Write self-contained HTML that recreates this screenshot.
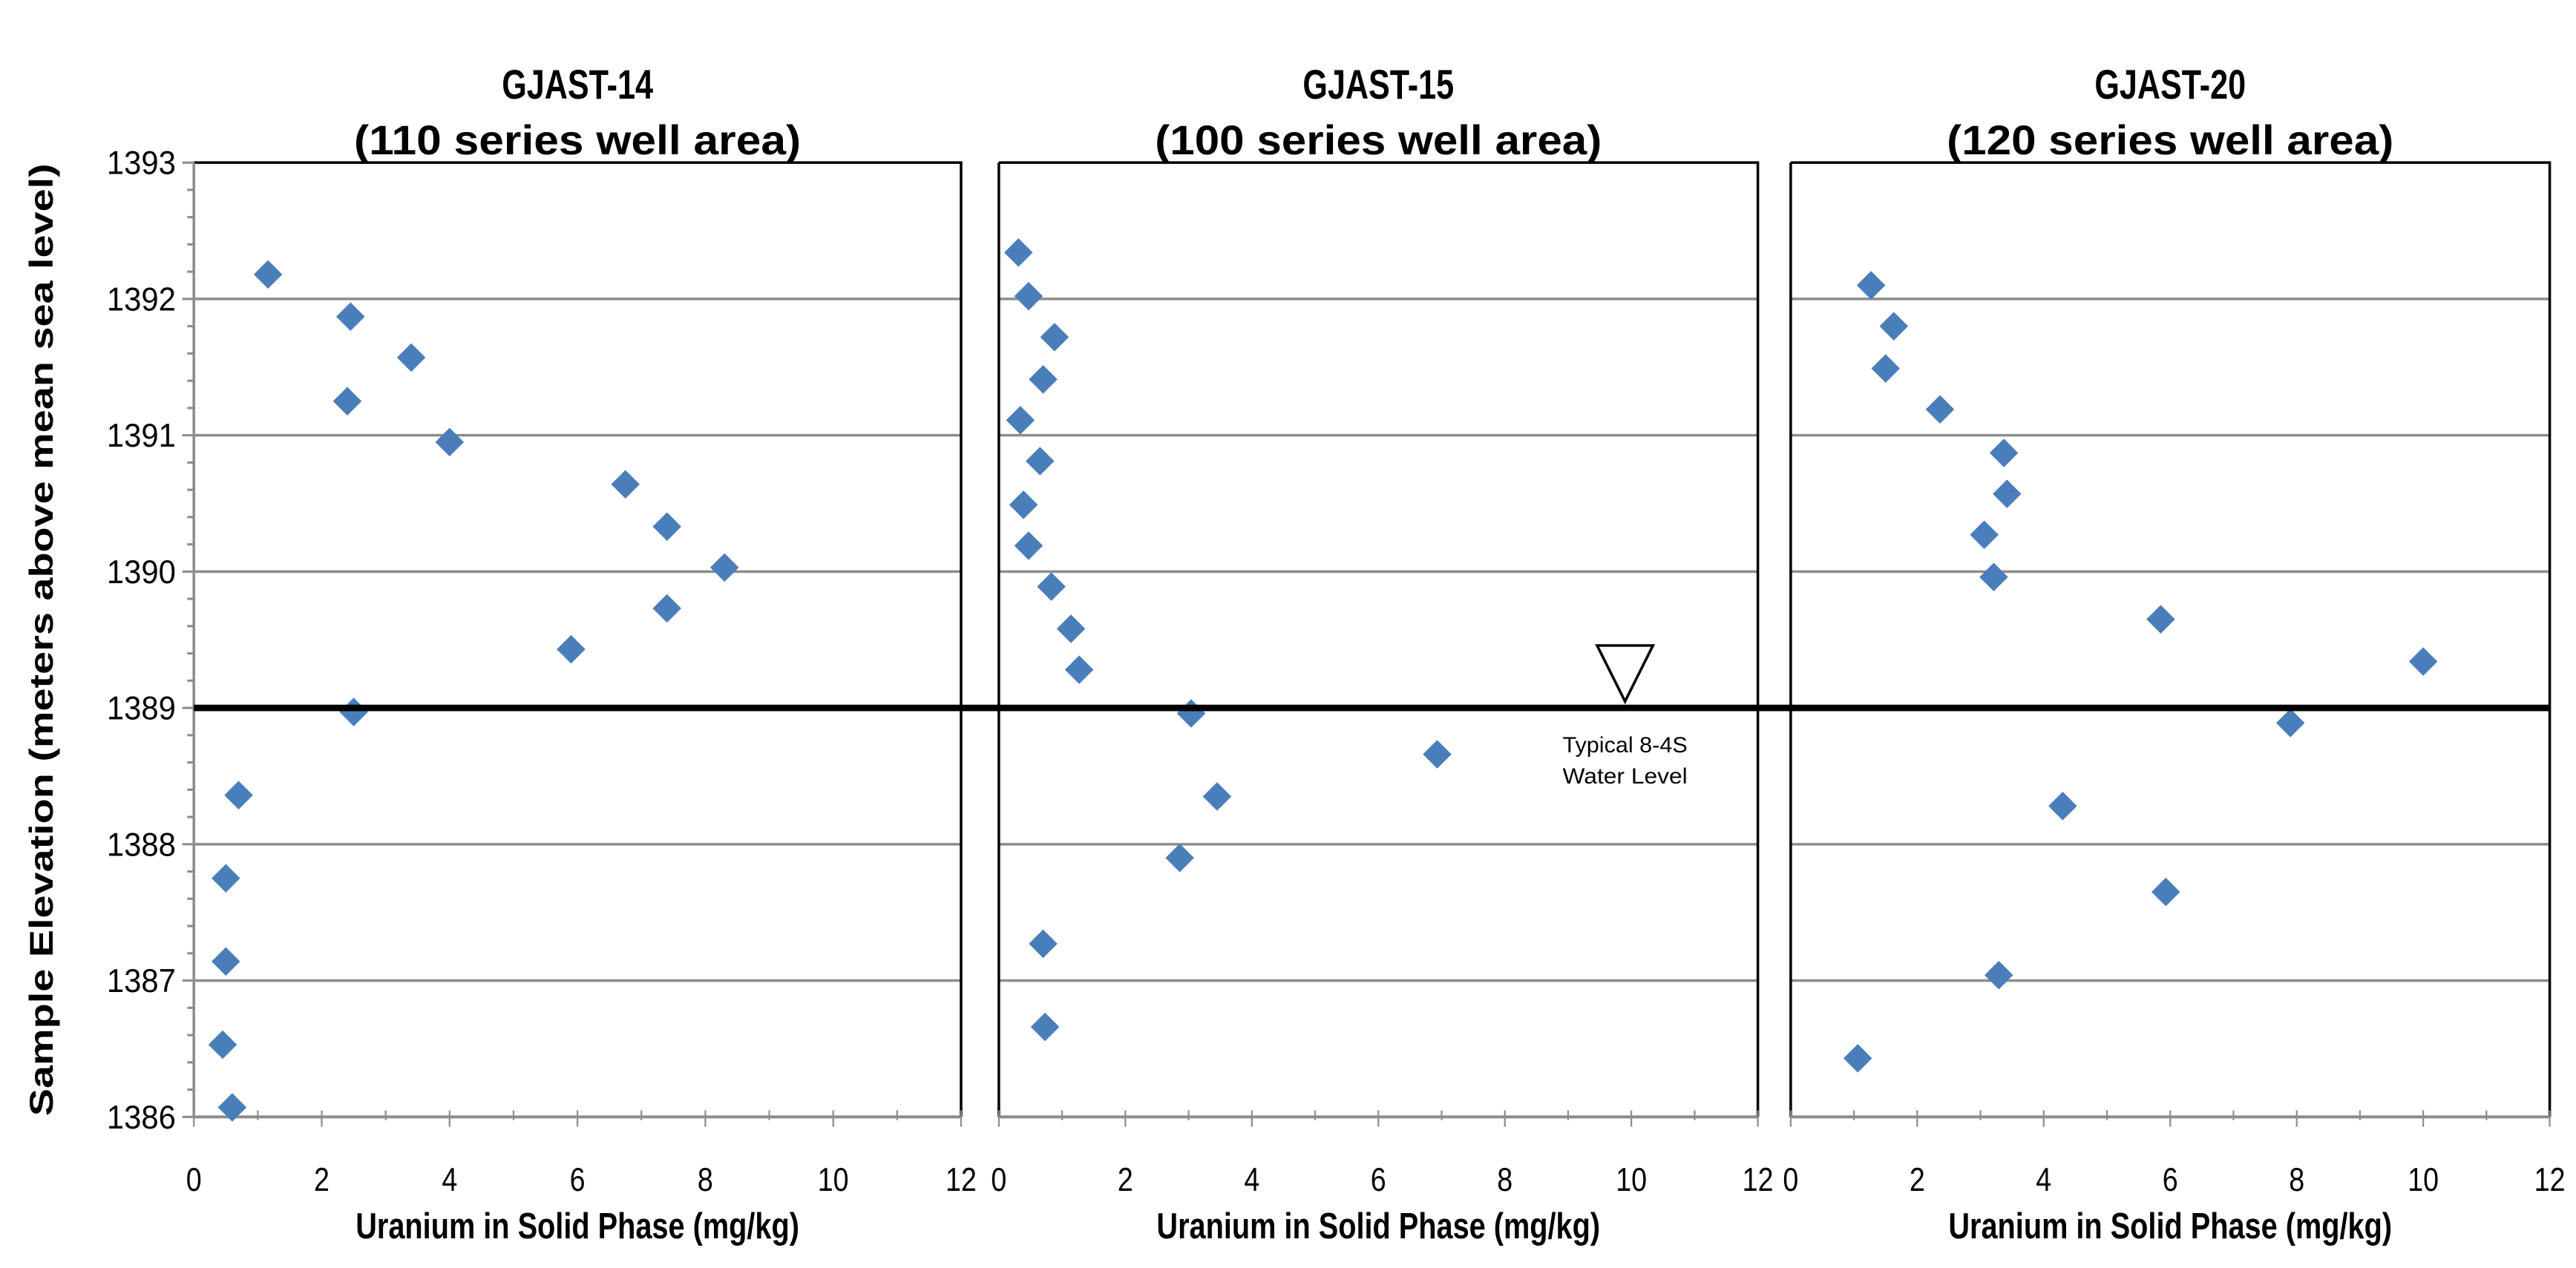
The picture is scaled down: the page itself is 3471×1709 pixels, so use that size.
<!DOCTYPE html>
<html><head><meta charset="utf-8"><style>
html,body{margin:0;padding:0;background:#fff;}
svg{display:block;}
text{font-family:"Liberation Sans",sans-serif;}
</style></head><body>
<svg id="chart" width="3471" height="1709" viewBox="0 0 1568 772" preserveAspectRatio="none" xmlns="http://www.w3.org/2000/svg">
<g id="g"></g>
</svg>
<script>
const yTicks = [1386, 1387, 1388, 1389, 1390, 1391, 1392, 1393];
const xTickLabels = [0, 2, 4, 6, 8, 10, 12];
const panelTitles = ["GJAST-14", "GJAST-15", "GJAST-20"];
const panelSubtitles = ["(110 series well area)", "(100 series well area)", "(120 series well area)"];
const s14x = [1.16, 2.45, 3.4, 2.4, 4.0, 6.75, 7.4, 8.3, 7.4, 5.9, 2.5, 0.7, 0.5, 0.5, 0.45, 0.6];
const s14y = [1392.18, 1391.87, 1391.57, 1391.25, 1390.95, 1390.64, 1390.33, 1390.03, 1389.73, 1389.43, 1388.97, 1388.36, 1387.75, 1387.14, 1386.53, 1386.07];
const s15x = [0.31, 0.47, 0.88, 0.7, 0.34, 0.65, 0.39, 0.47, 0.83, 1.14, 1.27, 3.04, 6.93, 3.45, 2.86, 0.7, 0.73];
const s15y = [1392.34, 1392.02, 1391.72, 1391.41, 1391.11, 1390.81, 1390.49, 1390.19, 1389.89, 1389.58, 1389.28, 1388.96, 1388.66, 1388.35, 1387.9, 1387.27, 1386.66];
const s20x = [1.27, 1.63, 1.5, 2.36, 3.37, 3.42, 3.06, 3.21, 5.85, 10.0, 7.9, 4.3, 5.93, 3.29, 1.06];
const s20y = [1392.1, 1391.8, 1391.49, 1391.19, 1390.87, 1390.57, 1390.27, 1389.96, 1389.65, 1389.34, 1388.89, 1388.28, 1387.65, 1387.04, 1386.43];
const waterLevel = 1389;
const waterMarkX = 9.9;

const NS = "http://www.w3.org/2000/svg";
const g = document.getElementById("g");
const panels = [{l:118,r:585},{l:608,r:1070},{l:1090,r:1552}];
const plotTop = 99, unit = 83;
const X_MIN = 0, X_MAX = 12, Y_MAX = 1393;
function yScale(v){ return plotTop + (Y_MAX - v) * unit; }
function xScale(p, v){ return p.l + (v - X_MIN) / (X_MAX - X_MIN) * (p.r - p.l); }
function el(tag, attrs, parent){
  const e = document.createElementNS(NS, tag);
  for (const k in attrs) e.setAttribute(k, attrs[k]);
  (parent || g).appendChild(e);
  return e;
}
const plotBottom = yScale(yTicks[0]);
const series = [[s14x, s14y], [s15x, s15y], [s20x, s20y]];

panels.forEach((p, i) => {
  const pg = el("g", {});
  
  
  yTicks.forEach(t => {
    if (t === yTicks[0] || t === yTicks[yTicks.length-1]) return;
    const ln = el("line", {x1:p.l, x2:p.r, y1:yScale(t), y2:yScale(t), stroke:"#8c8c8c", "stroke-width":1.6}, pg);
    
    
  });
  const bx = el("polyline", {points:`${p.l},${plotTop} ${p.r},${plotTop} ${p.r},${plotBottom}`, fill:"none", stroke:"#000", "stroke-width":1.6}, pg);
  
  
  if (i > 0) {
    const lb = el("line", {x1:p.l, x2:p.l, y1:plotTop, y2:plotBottom, stroke:"#000", "stroke-width":1.6}, pg);
    
    
  }
  const xa = el("line", {x1:p.l, x2:p.r, y1:plotBottom, y2:plotBottom, stroke:"#8c8c8c", "stroke-width":1.8}, pg);
  
  
  for (let v = X_MIN; v <= X_MAX; v++) {
    const x = xScale(p, v);
    const major = v % 2 === 0;
    const tk = el("line", {x1:x, x2:x, y1:plotBottom - 4, y2:plotBottom + (major ? 6 : 2), stroke:"#8c8c8c", "stroke-width":1}, pg);
    
    
  }
  xTickLabels.forEach(v => {
    const t = el("text", {x:xScale(p, v), y:725, "text-anchor":"middle", "font-size":20, fill:"#000", transform:`translate(${xScale(p, v)*0.15},0) scale(0.85,1)`}, pg);
    t.textContent = v;
    
    
  });
  const xt = el("text", {x:(p.l+p.r)/2, y:754, "text-anchor":"middle", "font-size":22, "font-weight":"bold", textLength:270, lengthAdjust:"spacingAndGlyphs"}, pg);
  xt.textContent = "Uranium in Solid Phase (mg/kg)";
  
  
  const t1 = el("text", {x:(p.l+p.r)/2, y:60, "text-anchor":"middle", "font-size":25, "font-weight":"bold", textLength:92, lengthAdjust:"spacingAndGlyphs"}, pg);
  t1.textContent = panelTitles[i];
  
  
  const t2 = el("text", {x:(p.l+p.r)/2, y:94, "text-anchor":"middle", "font-size":25, "font-weight":"bold", textLength:272, lengthAdjust:"spacingAndGlyphs"}, pg);
  t2.textContent = panelSubtitles[i];
  
  
  const [xs, ys] = series[i];
  xs.forEach((v, k) => {
    const cx = xScale(p, v), cy = yScale(ys[k]);
    const d = el("polygon", {points:`${cx},${cy-8.7} ${cx+8.7},${cy} ${cx},${cy+8.7} ${cx-8.7},${cy}`, fill:"#4a7ebb"}, pg);
    
    
  });
});

const p0 = panels[0];
const ya = el("line", {x1:p0.l, x2:p0.l, y1:plotTop, y2:plotBottom, stroke:"#8c8c8c", "stroke-width":1.6});


for (let k = 0; k <= (yTicks.length-1)*5; k++) {
  const v = yTicks[0] + k * 0.2;
  const major = k % 5 === 0;
  const tk = el("line", {x1:p0.l - (major ? 7 : 4), x2:p0.l, y1:yScale(v), y2:yScale(v), stroke:"#8c8c8c", "stroke-width":1.4});
  
  
}
yTicks.forEach(v => {
  const t = el("text", {x:107, y:yScale(v)+7, "text-anchor":"end", "font-size":20, textLength:42, lengthAdjust:"spacingAndGlyphs"});
  t.textContent = v;
  
  
});
const yt = el("text", {x:0, y:0, "text-anchor":"middle", "font-size":20, "font-weight":"bold", transform:`translate(32,${(plotTop+plotBottom)/2}) rotate(-90)`, textLength:580, lengthAdjust:"spacingAndGlyphs"});
yt.textContent = "Sample Elevation (meters above mean sea level)";



const wy = yScale(waterLevel);
const wl = el("line", {x1:p0.l, x2:panels[2].r, y1:wy, y2:wy, stroke:"#000", "stroke-width":4});


const wx = xScale(panels[1], waterMarkX);
const tri = el("polygon", {points:`${wx-17},${wy-38} ${wx+17},${wy-38} ${wx},${wy-4}`, fill:"#fff", stroke:"#000", "stroke-width":1.6});


const wt1 = el("text", {x:wx, y:wy+27, "text-anchor":"middle", "font-size":13.5, textLength:76, lengthAdjust:"spacingAndGlyphs"});
wt1.textContent = "Typical 8-4S";


const wt2 = el("text", {x:wx, y:wy+46, "text-anchor":"middle", "font-size":13.5, textLength:76, lengthAdjust:"spacingAndGlyphs"});
wt2.textContent = "Water Level";


</script>
</body></html>
